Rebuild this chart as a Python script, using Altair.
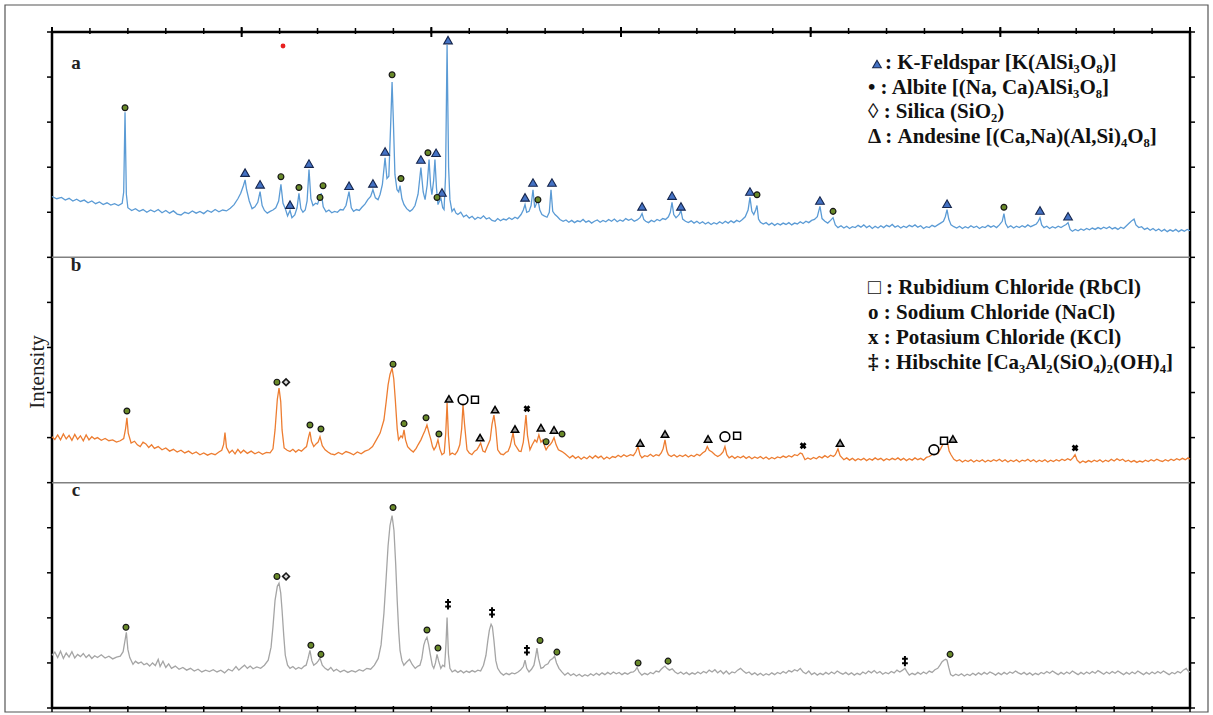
import altair as alt
import pandas as pd

# ---------------- data (2theta in degrees, intensity in a.u. within each panel) -------------
a_trace = [(10.0,1.35),(10.25,1.30),(10.5,1.33),(10.7,1.27),(10.9,1.31),(11.1,1.25),(11.3,1.29),(11.5,1.24),
(11.7,1.27),(11.9,1.21),(12.1,1.25),(12.3,1.19),(12.5,1.23),(12.7,1.17),(12.9,1.21),(13.1,1.16),(13.3,1.19),
(13.5,1.15),(13.7,1.20),(13.78,1.45),(13.85,3.22),(13.92,1.40),(14.0,1.10),(14.2,1.04),(14.4,1.08),(14.6,1.02),
(14.8,1.06),(15.0,1.00),(15.2,1.05),(15.4,1.01),(15.6,1.06),(15.8,0.99),(16.0,1.04),(16.2,0.98),(16.4,1.03),
(16.6,0.96),(16.8,0.94),(17.0,1.00),(17.2,0.97),(17.4,1.03),(17.6,0.98),(17.8,1.02),(18.0,0.97),(18.2,1.04),
(18.4,1.00),(18.6,1.06),(18.8,1.01),(19.0,1.05),(19.2,1.03),(19.4,1.09),(19.6,1.17),(19.8,1.30),(19.95,1.42),
(20.1,1.60),(20.18,1.72),(20.26,1.50),(20.4,1.25),(20.55,1.08),(20.7,1.12),(20.85,1.22),(20.97,1.46),(21.08,1.15),
(21.2,1.04),(21.35,0.98),(21.5,1.02),(21.65,1.05),(21.8,1.10),(21.95,1.25),(22.07,1.62),(22.18,1.20),(22.3,1.08),
(22.42,0.92),(22.55,1.04),(22.65,0.88),(22.8,0.94),(22.92,1.10),(23.02,1.42),(23.12,1.08),(23.23,1.00),(23.35,1.05),
(23.45,1.25),(23.55,1.95),(23.65,1.30),(23.76,1.15),(23.9,1.20),(24.0,1.18),(24.1,1.30),(24.2,1.42),(24.3,1.12),
(24.45,1.01),(24.6,1.05),(24.75,0.99),(24.9,1.02),(25.05,1.00),(25.2,1.06),(25.35,1.05),(25.5,1.15),(25.66,1.46),
(25.78,1.10),(25.9,1.02),(26.05,1.06),(26.2,1.04),(26.34,1.11),(26.5,1.18),(26.65,1.28),(26.8,1.35),(26.92,1.50),
(27.05,1.32),(27.19,1.28),(27.3,1.40),(27.42,1.62),(27.56,2.21),(27.66,1.75),(27.76,1.80),(27.86,3.00),(27.93,3.89),
(28.0,3.00),(28.08,1.84),(28.19,1.50),(28.28,1.45),(28.35,1.59),(28.45,1.30),(28.56,1.17),(28.7,1.08),(28.87,1.02),
(29.0,1.06),(29.14,1.15),(29.3,1.40),(29.45,1.99),(29.57,1.45),(29.67,1.28),(29.78,1.60),(29.88,2.17),(29.96,1.60),
(30.03,1.39),(30.12,1.70),(30.19,2.17),(30.27,1.55),(30.35,1.17),(30.43,1.25),(30.51,1.30),(30.6,1.10),(30.67,1.06),
(30.75,1.80),(30.83,4.71),(30.91,2.00),(30.98,1.28),(31.09,1.02),(31.2,1.08),(31.3,0.98),(31.4,0.95),(31.55,1.00),
(31.7,0.90),(31.85,0.94),(32.0,0.87),(32.15,0.91),(32.3,0.84),(32.45,0.89),(32.6,0.86),(32.75,0.92),(32.9,0.85),
(33.05,0.88),(33.2,0.82),(33.36,0.80),(33.5,0.86),(33.65,0.81),(33.8,0.85),(33.95,0.83),(34.1,0.88),(34.25,0.84),
(34.41,0.89),(34.55,0.86),(34.73,0.95),(34.85,1.05),(34.94,1.17),(35.03,1.00),(35.15,1.02),(35.26,1.15),(35.36,1.50),
(35.45,1.10),(35.52,1.17),(35.62,1.28),(35.72,1.05),(35.83,0.95),(35.95,0.92),(36.1,0.89),(36.22,1.00),(36.31,1.50),
(36.4,1.02),(36.52,0.95),(36.65,0.90),(36.78,0.84),(36.95,0.80),(37.1,0.83),(37.25,0.78),(37.4,0.82),(37.55,0.77),
(37.7,0.81),(37.85,0.79),(38.0,0.84),(38.15,0.78),(38.3,0.81),(38.45,0.76),(38.6,0.80),(38.75,0.83),(38.9,0.78),
(39.05,0.82),(39.2,0.79),(39.35,0.84),(39.5,0.80),(39.65,0.85),(39.8,0.79),(39.95,0.83),(40.1,0.80),(40.25,0.86),
(40.4,0.82),(40.55,0.85),(40.7,0.80),(40.85,0.83),(41.0,0.88),(41.11,0.97),(41.2,0.84),(41.3,0.80),(41.45,0.77),
(41.6,0.82),(41.75,0.79),(41.9,0.84),(42.05,0.81),(42.2,0.86),(42.35,0.84),(42.5,0.90),(42.6,1.00),(42.69,1.22),
(42.78,0.95),(42.9,0.88),(43.0,0.92),(43.08,0.96),(43.16,1.04),(43.25,0.85),(43.4,0.80),(43.55,0.77),(43.7,0.81),
(43.85,0.76),(44.0,0.80),(44.15,0.75),(44.3,0.79),(44.45,0.74),(44.6,0.78),(44.75,0.73),(44.9,0.77),(45.05,0.74),
(45.2,0.79),(45.35,0.75),(45.5,0.80),(45.65,0.76),(45.8,0.81),(45.95,0.77),(46.1,0.82),(46.25,0.79),(46.4,0.84),
(46.55,0.90),(46.7,1.05),(46.8,1.33),(46.9,1.02),(47.0,0.95),(47.1,1.05),(47.17,1.15),(47.25,0.85),(47.35,0.78),
(47.5,0.74),(47.65,0.77),(47.8,0.72),(47.95,0.76),(48.1,0.71),(48.25,0.75),(48.4,0.72),(48.55,0.76),(48.7,0.73),
(48.85,0.77),(49.0,0.72),(49.15,0.76),(49.3,0.74),(49.45,0.79),(49.6,0.75),(49.75,0.80),(49.9,0.77),(50.05,0.82),
(50.2,0.84),(50.35,0.90),(50.49,1.13),(50.6,0.86),(50.75,0.80),(50.9,0.76),(51.05,0.82),(51.18,0.88),(51.3,0.72),
(51.44,0.66),(51.6,0.70),(51.75,0.65),(51.9,0.69),(52.05,0.64),(52.2,0.68),(52.35,0.66),(52.5,0.71),(52.65,0.67),
(52.8,0.72),(52.95,0.66),(53.1,0.70),(53.25,0.64),(53.4,0.69),(53.55,0.65),(53.7,0.70),(53.85,0.66),(54.0,0.71),
(54.15,0.68),(54.3,0.73),(54.45,0.67),(54.6,0.70),(54.75,0.65),(54.9,0.69),(55.05,0.66),(55.2,0.71),(55.35,0.68),
(55.5,0.72),(55.65,0.67),(55.8,0.70),(55.95,0.64),(56.1,0.68),(56.25,0.66),(56.4,0.71),(56.55,0.68),(56.7,0.72),
(56.85,0.76),(57.0,0.80),(57.1,0.90),(57.19,1.06),(57.28,0.85),(57.4,0.72),(57.55,0.68),(57.7,0.65),(57.85,0.69),
(58.0,0.64),(58.15,0.68),(58.3,0.65),(58.45,0.70),(58.6,0.66),(58.75,0.69),(58.9,0.64),(59.05,0.68),(59.2,0.66),
(59.35,0.71),(59.5,0.67),(59.65,0.70),(59.8,0.66),(59.95,0.72),(60.1,0.80),(60.19,0.97),(60.28,0.75),(60.4,0.66),
(60.55,0.70),(60.7,0.65),(60.85,0.69),(61.0,0.66),(61.15,0.70),(61.3,0.67),(61.45,0.72),(61.6,0.68),(61.75,0.71),
(61.9,0.74),(62.0,0.80),(62.09,0.88),(62.18,0.72),(62.3,0.66),(62.45,0.69),(62.6,0.64),(62.75,0.68),(62.9,0.65),
(63.05,0.69),(63.2,0.66),(63.35,0.70),(63.47,0.73),(63.57,0.77),(63.68,0.62),(63.8,0.58),(63.95,0.62),(64.1,0.59),
(64.25,0.63),(64.4,0.60),(64.55,0.64),(64.7,0.61),(64.85,0.65),(65.0,0.62),(65.15,0.66),(65.3,0.63),(65.45,0.67),
(65.6,0.64),(65.75,0.68),(65.9,0.63),(66.05,0.66),(66.2,0.62),(66.35,0.67),(66.5,0.64),(66.65,0.70),(66.8,0.76),
(66.95,0.82),(67.05,0.85),(67.15,0.72),(67.3,0.66),(67.45,0.68),(67.6,0.62),(67.75,0.65),(67.9,0.60),(68.05,0.64),
(68.2,0.59),(68.35,0.63),(68.5,0.58),(68.65,0.62),(68.8,0.57),(68.95,0.61),(69.1,0.58),(69.25,0.62),(69.4,0.57),
(69.55,0.61),(69.7,0.58),(69.85,0.62),(70.0,0.59)]

b_trace = [(10.0,1.02),(10.15,0.96),(10.3,1.06),(10.45,0.95),(10.6,1.08),(10.75,0.97),(10.9,1.05),(11.05,0.94),
(11.2,1.07),(11.35,0.96),(11.5,1.04),(11.65,0.93),(11.8,1.06),(11.95,0.95),(12.1,1.02),(12.25,0.97),(12.4,1.00),
(12.6,0.94),(12.8,0.98),(13.0,0.93),(13.2,0.95),(13.4,0.90),(13.6,0.93),(13.78,0.98),(13.88,1.20),(13.95,1.44),
(14.02,1.10),(14.17,0.88),(14.35,0.92),(14.5,0.84),(14.65,0.80),(14.8,0.90),(14.95,0.86),(15.1,0.78),(15.25,0.84),
(15.4,0.76),(15.6,0.80),(15.8,0.73),(16.0,0.77),(16.2,0.70),(16.4,0.74),(16.6,0.68),(16.8,0.72),(17.0,0.66),
(17.2,0.70),(17.4,0.64),(17.6,0.68),(17.8,0.62),(18.0,0.66),(18.2,0.61),(18.4,0.65),(18.6,0.62),(18.8,0.68),
(18.95,0.72),(19.05,0.85),(19.12,1.11),(19.2,0.78),(19.35,0.66),(19.5,0.72),(19.65,0.64),(19.8,0.74),(19.95,0.66),
(20.1,0.72),(20.3,0.65),(20.5,0.70),(20.7,0.64),(20.9,0.68),(21.1,0.63),(21.3,0.67),(21.5,0.66),(21.65,0.75),
(21.76,1.17),(21.88,1.85),(21.97,2.10),(22.06,1.80),(22.13,1.17),(22.24,0.77),(22.4,0.72),(22.55,0.69),(22.7,0.74),
(22.85,0.68),(23.0,0.73),(23.15,0.70),(23.3,0.76),(23.42,0.80),(23.52,1.00),(23.6,1.13),(23.68,0.92),(23.8,0.80),
(23.92,0.86),(24.03,0.90),(24.13,1.02),(24.25,0.82),(24.4,0.73),(24.55,0.68),(24.7,0.64),(24.9,0.62),(25.1,0.67),
(25.3,0.63),(25.5,0.69),(25.7,0.66),(25.9,0.62),(26.1,0.68),(26.3,0.64),(26.5,0.70),(26.7,0.73),(26.9,0.80),
(27.1,0.95),(27.3,1.10),(27.5,1.39),(27.62,1.80),(27.72,2.17),(27.82,2.40),(27.93,2.54),(28.02,2.30),(28.1,1.84),
(28.2,1.20),(28.27,0.95),(28.4,1.04),(28.48,1.00),(28.56,1.17),(28.64,0.95),(28.75,0.80),(28.9,0.73),(29.05,0.68),
(29.2,0.76),(29.3,0.84),(29.45,0.95),(29.56,1.06),(29.66,1.15),(29.77,1.28),(29.88,1.10),(29.98,0.95),(30.06,0.80),
(30.14,0.73),(30.24,0.80),(30.35,0.95),(30.45,0.75),(30.56,0.62),(30.68,0.66),(30.76,1.10),(30.83,1.77),(30.9,1.05),
(30.98,0.62),(31.1,0.66),(31.25,0.62),(31.38,0.70),(31.5,0.84),(31.6,1.20),(31.67,1.73),(31.75,1.30),(31.88,0.73),
(32.0,0.66),(32.14,0.62),(32.28,0.70),(32.4,0.73),(32.5,0.80),(32.6,0.88),(32.72,0.70),(32.83,0.68),(32.95,0.80),
(33.1,0.95),(33.2,1.30),(33.3,1.50),(33.4,1.20),(33.5,0.73),(33.65,0.64),(33.8,0.62),(33.95,0.68),(34.04,0.69),
(34.15,0.80),(34.23,0.95),(34.31,1.11),(34.4,0.85),(34.52,0.77),(34.63,0.70),(34.73,0.69),(34.85,0.90),(34.92,1.20),
(34.99,1.50),(35.07,1.05),(35.2,0.73),(35.32,0.84),(35.46,0.95),(35.56,0.90),(35.67,1.06),(35.78,0.90),(35.88,0.95),
(35.98,0.80),(36.05,0.73),(36.15,0.80),(36.26,0.84),(36.36,0.90),(36.47,1.00),(36.58,0.84),(36.7,0.73),(36.89,0.69),
(37.05,0.64),(37.3,0.55),(37.45,0.60),(37.6,0.54),(37.75,0.58),(37.9,0.52),(38.05,0.57),(38.2,0.53),(38.35,0.59),
(38.5,0.54),(38.65,0.60),(38.8,0.55),(38.95,0.59),(39.1,0.52),(39.25,0.57),(39.4,0.53),(39.55,0.58),(39.7,0.56),
(39.85,0.61),(40.0,0.57),(40.15,0.62),(40.3,0.58),(40.5,0.62),(40.65,0.60),(40.78,0.68),(40.9,0.80),(41.0,0.62),
(41.1,0.55),(41.25,0.60),(41.4,0.58),(41.55,0.63),(41.7,0.58),(41.85,0.62),(42.0,0.60),(42.12,0.66),(42.22,0.75),
(42.32,0.95),(42.42,0.70),(42.5,0.62),(42.65,0.58),(42.8,0.62),(42.95,0.57),(43.1,0.61),(43.25,0.58),(43.4,0.62),
(43.55,0.57),(43.7,0.61),(43.85,0.58),(44.0,0.63),(44.15,0.60),(44.3,0.66),(44.45,0.70),(44.55,0.80),(44.65,0.72),
(44.8,0.68),(44.95,0.62),(45.1,0.58),(45.25,0.62),(45.38,0.68),(45.48,0.80),(45.58,0.62),(45.7,0.55),(45.85,0.59),
(46.0,0.54),(46.15,0.58),(46.3,0.55),(46.45,0.59),(46.6,0.54),(46.75,0.58),(46.9,0.53),(47.05,0.57),(47.2,0.54),
(47.35,0.58),(47.5,0.53),(47.65,0.57),(47.8,0.52),(47.95,0.56),(48.1,0.53),(48.25,0.57),(48.4,0.55),(48.55,0.59),
(48.7,0.56),(48.85,0.60),(49.0,0.57),(49.15,0.62),(49.3,0.60),(49.45,0.66),(49.55,0.64),(49.7,0.51),(49.85,0.55),
(50.0,0.52),(50.15,0.56),(50.3,0.53),(50.45,0.58),(50.6,0.55),(50.75,0.60),(50.9,0.56),(51.05,0.61),(51.2,0.58),
(51.3,0.62),(51.44,0.75),(51.55,0.60),(51.75,0.51),(51.9,0.55),(52.05,0.50),(52.2,0.54),(52.35,0.49),(52.5,0.53),
(52.65,0.50),(52.8,0.54),(52.95,0.49),(53.1,0.53),(53.25,0.50),(53.4,0.55),(53.55,0.51),(53.7,0.54),(53.85,0.49),
(54.0,0.53),(54.15,0.50),(54.3,0.54),(54.45,0.51),(54.6,0.55),(54.75,0.50),(54.9,0.54),(55.05,0.49),(55.2,0.53),
(55.35,0.50),(55.5,0.55),(55.65,0.51),(55.8,0.54),(55.95,0.50),(56.1,0.56),(56.25,0.58),(56.4,0.62),(56.55,0.66),
(56.7,0.64),(56.85,0.75),(56.97,0.85),(57.08,0.92),(57.19,0.95),(57.3,0.70),(57.4,0.62),(57.55,0.52),(57.7,0.48),
(57.85,0.51),(58.0,0.46),(58.15,0.50),(58.3,0.47),(58.45,0.51),(58.6,0.46),(58.75,0.50),(58.9,0.47),(59.05,0.51),
(59.2,0.46),(59.35,0.50),(59.5,0.47),(59.65,0.51),(59.8,0.48),(59.95,0.52),(60.1,0.47),(60.25,0.51),(60.4,0.46),
(60.55,0.50),(60.7,0.47),(60.85,0.51),(61.0,0.46),(61.15,0.50),(61.3,0.48),(61.45,0.52),(61.6,0.47),(61.75,0.51),
(61.9,0.46),(62.05,0.50),(62.2,0.47),(62.35,0.51),(62.5,0.46),(62.65,0.50),(62.8,0.47),(62.95,0.51),(63.1,0.48),
(63.25,0.52),(63.4,0.49),(63.55,0.53),(63.7,0.50),(63.82,0.55),(63.94,0.62),(64.05,0.50),(64.2,0.44),(64.35,0.48),
(64.5,0.45),(64.65,0.49),(64.8,0.46),(64.95,0.50),(65.1,0.47),(65.25,0.51),(65.4,0.46),(65.55,0.50),(65.7,0.47),
(65.85,0.52),(66.0,0.48),(66.15,0.53),(66.3,0.49),(66.45,0.52),(66.6,0.47),(66.75,0.50),(66.9,0.46),(67.05,0.49),
(67.2,0.45),(67.35,0.48),(67.5,0.46),(67.65,0.50),(67.8,0.47),(67.95,0.51),(68.1,0.48),(68.25,0.52),(68.4,0.49),
(68.55,0.47),(68.7,0.51),(68.85,0.48),(69.0,0.52),(69.15,0.49),(69.3,0.53),(69.45,0.50),(69.6,0.54),(69.75,0.51),
(69.9,0.55),(70.0,0.52)]

c_trace = [(10.0,1.17),(10.15,1.24),(10.3,1.12),(10.45,1.26),(10.6,1.10),(10.75,1.22),(10.9,1.13),(11.05,1.25),
(11.2,1.11),(11.35,1.19),(11.5,1.14),(11.65,1.21),(11.8,1.12),(11.95,1.18),(12.1,1.10),(12.25,1.16),(12.4,1.12),
(12.6,1.18),(12.8,1.11),(13.0,1.15),(13.2,1.09),(13.4,1.13),(13.6,1.15),(13.75,1.25),(13.85,1.50),(13.92,1.68),
(14.0,1.30),(14.1,1.12),(14.27,0.97),(14.4,1.04),(14.55,0.99),(14.7,1.02),(14.85,0.96),(15.0,0.99),(15.15,0.93),
(15.3,1.00),(15.45,0.94),(15.6,1.08),(15.7,0.92),(15.85,1.04),(16.0,0.90),(16.15,0.98),(16.3,0.88),(16.5,0.93),
(16.7,0.86),(16.9,0.90),(17.1,0.84),(17.3,0.88),(17.5,0.82),(17.7,0.86),(17.9,0.80),(18.1,0.84),(18.3,0.81),
(18.5,0.85),(18.7,0.80),(18.9,0.84),(19.1,0.78),(19.3,0.86),(19.5,0.82),(19.7,0.92),(19.85,0.84),(20.0,0.90),
(20.15,0.95),(20.3,0.88),(20.45,0.93),(20.6,0.87),(20.8,0.91),(21.0,0.88),(21.2,0.95),(21.4,1.06),(21.55,1.35),
(21.65,1.80),(21.76,2.39),(21.88,2.70),(21.97,2.77),(22.06,2.55),(22.13,2.17),(22.22,1.60),(22.3,1.17),(22.42,0.95),
(22.55,0.88),(22.7,0.92),(22.85,0.86),(23.0,0.90),(23.15,0.87),(23.3,0.93),(23.4,0.95),(23.5,1.10),(23.6,1.28),
(23.7,1.05),(23.8,0.95),(23.95,1.00),(24.05,1.05),(24.13,1.11),(24.25,0.95),(24.4,0.88),(24.55,0.84),(24.7,0.90),
(24.85,0.82),(25.0,0.86),(25.2,0.80),(25.4,0.84),(25.6,0.79),(25.8,0.83),(26.0,0.80),(26.2,0.85),(26.4,0.82),
(26.6,0.88),(26.8,0.86),(27.0,0.95),(27.2,1.10),(27.35,1.40),(27.5,2.10),(27.62,2.90),(27.72,3.60),(27.82,4.05),
(27.93,4.27),(28.03,3.94),(28.12,3.20),(28.2,2.39),(28.28,1.70),(28.35,1.28),(28.45,1.05),(28.55,0.95),(28.7,1.02),
(28.85,1.08),(29.0,0.96),(29.15,0.88),(29.3,0.93),(29.4,0.95),(29.5,1.10),(29.6,1.39),(29.68,1.50),(29.77,1.57),
(29.86,1.40),(29.94,1.20),(30.05,0.95),(30.13,0.88),(30.22,1.00),(30.3,1.19),(30.38,1.05),(30.5,0.88),(30.6,0.95),
(30.7,0.92),(30.77,1.40),(30.83,2.01),(30.9,1.20),(30.98,0.88),(31.1,0.80),(31.25,0.84),(31.4,0.79),(31.55,0.83),
(31.7,0.78),(31.85,0.82),(32.0,0.79),(32.15,0.83),(32.3,0.80),(32.45,0.84),(32.6,0.82),(32.75,0.95),(32.88,1.17),
(32.98,1.50),(33.06,1.73),(33.15,1.86),(33.22,1.80),(33.3,1.50),(33.4,1.05),(33.5,0.88),(33.65,0.78),(33.8,0.73),
(33.95,0.77),(34.1,0.74),(34.25,0.78),(34.4,0.76),(34.57,0.80),(34.7,0.84),(34.85,0.92),(34.94,1.06),(35.03,0.88),
(35.15,0.80),(35.28,0.86),(35.41,0.95),(35.5,1.15),(35.57,1.33),(35.65,1.10),(35.78,0.88),(35.9,0.90),(36.0,0.95),
(36.15,0.98),(36.26,1.06),(36.4,1.10),(36.5,1.15),(36.6,1.00),(36.73,0.88),(36.88,0.80),(37.04,0.73),(37.2,0.78),
(37.35,0.72),(37.5,0.76),(37.65,0.71),(37.8,0.75),(37.95,0.70),(38.1,0.74),(38.25,0.71),(38.4,0.76),(38.55,0.72),
(38.7,0.77),(38.85,0.73),(39.0,0.78),(39.15,0.74),(39.3,0.79),(39.45,0.75),(39.6,0.80),(39.75,0.76),(39.9,0.79),
(40.05,0.74),(40.2,0.78),(40.35,0.75),(40.5,0.79),(40.65,0.80),(40.76,0.84),(40.85,0.90),(40.95,0.80),(41.1,0.73),
(41.25,0.77),(41.4,0.74),(41.55,0.79),(41.7,0.76),(41.85,0.82),(42.0,0.80),(42.12,0.86),(42.22,0.90),(42.32,0.93),
(42.42,0.88),(42.55,0.84),(42.7,0.87),(42.85,0.80),(43.0,0.76),(43.15,0.80),(43.3,0.75),(43.45,0.79),(43.6,0.74),
(43.75,0.78),(43.9,0.75),(44.05,0.80),(44.2,0.76),(44.35,0.81),(44.5,0.78),(44.65,0.84),(44.8,0.80),(44.95,0.85),
(45.1,0.78),(45.25,0.83),(45.4,0.76),(45.55,0.82),(45.7,0.75),(45.85,0.80),(46.0,0.78),(46.15,0.84),(46.3,0.88),
(46.45,0.82),(46.6,0.77),(46.75,0.80),(46.9,0.74),(47.05,0.78),(47.2,0.73),(47.35,0.77),(47.5,0.72),(47.65,0.76),
(47.8,0.73),(47.95,0.78),(48.1,0.74),(48.25,0.79),(48.4,0.76),(48.55,0.81),(48.7,0.77),(48.85,0.83),(49.0,0.80),
(49.15,0.85),(49.3,0.82),(49.45,0.88),(49.6,0.80),(49.75,0.76),(49.9,0.82),(50.05,0.74),(50.2,0.78),(50.35,0.73),
(50.5,0.77),(50.65,0.74),(50.8,0.79),(50.95,0.75),(51.1,0.80),(51.25,0.76),(51.4,0.82),(51.55,0.78),(51.7,0.75),
(51.85,0.79),(52.0,0.74),(52.15,0.78),(52.3,0.73),(52.45,0.77),(52.6,0.74),(52.75,0.80),(52.9,0.76),(53.05,0.82),
(53.2,0.78),(53.35,0.83),(53.5,0.77),(53.65,0.81),(53.8,0.75),(53.95,0.79),(54.1,0.76),(54.25,0.81),(54.4,0.78),
(54.55,0.84),(54.7,0.80),(54.85,0.84),(54.97,0.88),(55.08,0.80),(55.2,0.73),(55.35,0.77),(55.5,0.74),(55.65,0.79),
(55.8,0.75),(55.95,0.80),(56.1,0.76),(56.25,0.82),(56.4,0.79),(56.55,0.85),(56.7,0.88),(56.82,0.95),(56.92,1.02),
(57.02,1.06),(57.12,1.08),(57.19,1.06),(57.28,0.90),(57.38,0.74),(57.5,0.71),(57.65,0.75),(57.8,0.72),(57.95,0.76),
(58.1,0.71),(58.25,0.75),(58.4,0.72),(58.55,0.77),(58.7,0.73),(58.85,0.78),(59.0,0.74),(59.15,0.79),(59.3,0.75),
(59.45,0.80),(59.6,0.77),(59.75,0.73),(59.9,0.78),(60.05,0.74),(60.2,0.79),(60.35,0.75),(60.5,0.80),(60.65,0.77),
(60.8,0.82),(60.95,0.78),(61.1,0.75),(61.25,0.79),(61.4,0.74),(61.55,0.78),(61.7,0.73),(61.85,0.77),(62.0,0.74),
(62.15,0.79),(62.3,0.76),(62.45,0.81),(62.6,0.77),(62.75,0.82),(62.9,0.78),(63.05,0.74),(63.2,0.79),(63.35,0.75),
(63.5,0.80),(63.65,0.76),(63.8,0.82),(63.95,0.78),(64.1,0.74),(64.25,0.79),(64.4,0.75),(64.55,0.80),(64.7,0.76),
(64.85,0.81),(65.0,0.77),(65.15,0.83),(65.3,0.79),(65.45,0.75),(65.6,0.80),(65.75,0.76),(65.9,0.81),(66.05,0.77),
(66.2,0.82),(66.35,0.78),(66.5,0.74),(66.65,0.79),(66.8,0.75),(66.95,0.80),(67.1,0.76),(67.25,0.82),(67.4,0.78),
(67.55,0.74),(67.7,0.79),(67.85,0.75),(68.0,0.80),(68.15,0.76),(68.3,0.81),(68.45,0.77),(68.6,0.82),(68.75,0.78),
(68.9,0.74),(69.05,0.79),(69.2,0.76),(69.35,0.81),(69.5,0.78),(69.65,0.84),(69.8,0.88),(69.9,0.82),(70.0,0.80)]

# phase markers (2theta, intensity within panel)
a_kfeldspar = [(20.18,1.88),(20.97,1.62),(22.55,1.17),(23.55,2.08),(25.66,1.59),(26.92,1.64),(27.56,2.35),
(29.45,2.17),(30.25,2.32),(30.56,1.44),(30.88,4.82),(34.94,1.33),(35.36,1.66),(36.36,1.66),(41.11,1.13),
(42.69,1.37),(43.16,1.13),(46.80,1.46),(50.49,1.26),(57.19,1.19),(62.09,1.04),(63.57,0.91)]
a_albite = [(13.85,3.32),(22.07,1.79),(23.02,1.55),(24.13,1.33),(24.29,1.59),(27.93,4.05),(28.40,1.75),
(29.82,2.32),(30.30,1.33),(35.62,1.28),(47.17,1.39),(51.18,1.02),(60.19,1.11)]
b_albite = [(13.95,1.59),(21.86,2.23),(23.60,1.28),(24.18,1.19),(27.98,2.63),(28.56,1.31),(29.72,1.44),
(30.40,1.08),(36.05,0.91),(36.89,1.08)]
b_silica = [(22.34,2.23)]
b_andesine = [(30.93,1.86),(32.57,1.00),(33.36,1.62),(34.41,1.19),(35.78,1.22),(36.47,1.17),(41.01,0.88),
(42.32,1.08),(44.59,0.97),(51.55,0.88),(57.50,0.97)]
b_nacl = [(31.67,1.84),(45.48,1.02),(56.50,0.73)]
b_rbcl = [(32.30,1.84),(46.12,1.04),(57.03,0.93)]
b_kcl = [(35.04,1.64),(49.60,0.82),(63.94,0.77)]
c_albite = [(13.90,1.79),(21.86,2.92),(23.65,1.39),(24.18,1.19),(27.98,4.45),(29.77,1.73),(30.35,1.33),
(35.73,1.50),(36.62,1.24),(40.90,1.00),(42.48,1.04),(57.35,1.19)]
c_silica = [(22.34,2.92)]
c_hibschite = [(30.88,2.30),(33.20,2.12),(35.04,1.28),(54.97,1.04)]
stray_dot = [(22.18,4.69)]   # red dot in panel a

panel_offsets = {"a": 10, "b": 5, "c": 0}
panel_names = ["a", "b", "c"]
x_ticks = list(range(10, 71, 2))
x_major = list(range(10, 71, 10))
y_ticks = list(range(0, 16))
dividers = [5, 10]

legend_a = [": K-Feldspar [K(AlSi₃O₈)]", "• : Albite [(Na, Ca)AlSi₃O₈]", "◊ : Silica (SiO₂)",
            "Δ : Andesine [(Ca,Na)(Al,Si)₄O₈]"]
legend_b = ["□ : Rubidium Chloride (RbCl)", "o : Sodium Chloride (NaCl)", "x : Potasium Chloride (KCl)",
            "‡ : Hibschite [Ca₃Al₂(SiO₄)₂(OH)₄]"]
y_title = "Intensity"

# ---------------- chart -------------
W, H = 1138, 676
SERIF = "Liberation Serif"
xs = alt.Scale(domain=[10, 70], nice=False, zero=False)
ys = alt.Scale(domain=[0, 15], nice=False, zero=False)


def frame(points, panel):
    off = panel_offsets[panel]
    return pd.DataFrame({"tt": [p[0] for p in points], "I": [p[1] + off for p in points]})


def enc():
    return dict(x=alt.X("tt:Q", scale=xs, axis=None), y=alt.Y("I:Q", scale=ys, axis=None))


one = pd.DataFrame({"k": [0]})
layers = []

# outer border
layers.append(alt.Chart(one).mark_rect(fill="transparent", stroke="#555555", strokeWidth=1.2).encode(
    x=alt.value(-47), x2=alt.value(1156), y=alt.value(-27), y2=alt.value(680)))

# panel dividers
layers.append(alt.Chart(pd.DataFrame({"d": dividers})).mark_rule(color="#808080", strokeWidth=1.5).encode(
    y=alt.Y("d:Q", scale=ys, axis=None), x=alt.value(0), x2=alt.value(W)))

# ticks
tx = pd.DataFrame({"t": x_ticks})
txm = pd.DataFrame({"t": x_major})
ty = pd.DataFrame({"t": y_ticks})
xt = alt.X("t:Q", scale=xs, axis=None)
yt = alt.Y("t:Q", scale=ys, axis=None)
layers.append(alt.Chart(tx).mark_rule(color="black", strokeWidth=1.5).encode(x=xt, y=alt.value(-4), y2=alt.value(2)))
layers.append(alt.Chart(txm).mark_rule(color="black", strokeWidth=2).encode(x=xt, y=alt.value(-5), y2=alt.value(5)))
layers.append(alt.Chart(tx).mark_rule(color="black", strokeWidth=1.5).encode(x=xt, y=alt.value(H - 2), y2=alt.value(H + 4)))
layers.append(alt.Chart(ty).mark_rule(color="black", strokeWidth=1.5).encode(y=yt, x=alt.value(-5), x2=alt.value(0)))
layers.append(alt.Chart(ty).mark_rule(color="black", strokeWidth=1.5).encode(y=yt, x=alt.value(W), x2=alt.value(W + 5)))

# traces
for pts, panel, col in [(a_trace, "a", "#5B9BD5"), (b_trace, "b", "#ED7D31"), (c_trace, "c", "#A5A5A5")]:
    layers.append(alt.Chart(frame(pts, panel)).mark_line(color=col, strokeWidth=1.3).encode(**enc()))

kf_style = dict(shape="triangle-up", filled=True, fill="#4472C4", stroke="#16264d", strokeWidth=1.1, size=75, opacity=1)
ab_style = dict(shape="circle", filled=True, fill="#6a8a2a", stroke="#161616", strokeWidth=1.2, size=34, opacity=1)
si_style = dict(shape="diamond", filled=True, fill="#d8d8d8", stroke="#1a1a1a", strokeWidth=1.6, size=45, opacity=1)
an_style = dict(shape="triangle-up", filled=True, fill="#9a9a9a", stroke="black", strokeWidth=1.5, size=55, opacity=1)
na_style = dict(shape="circle", filled=True, fill="white", stroke="black", strokeWidth=1.6, size=95, opacity=1)
rb_style = dict(shape="square", filled=True, fill="white", stroke="black", strokeWidth=1.5, size=48, opacity=1)
k_style = dict(shape="cross", angle=45, filled=True, color="black", size=48, opacity=1)
hib_style = dict(shape="M0,-1L0,1M-0.55,-0.45L0.55,-0.45M-0.55,0.4L0.55,0.4", filled=False, stroke="black",
                 strokeWidth=2, size=110, opacity=1)

for pts, panel, style in [(a_kfeldspar, "a", kf_style), (a_albite, "a", ab_style),
                          (b_albite, "b", ab_style), (b_silica, "b", si_style), (b_andesine, "b", an_style),
                          (b_nacl, "b", na_style), (b_rbcl, "b", rb_style), (b_kcl, "b", k_style),
                          (c_albite, "c", ab_style), (c_silica, "c", si_style), (c_hibschite, "c", hib_style)]:
    layers.append(alt.Chart(frame(pts, panel)).mark_point(**style).encode(**enc()))

layers.append(alt.Chart(frame(stray_dot, "a")).mark_circle(color="#e8201f", size=24, opacity=1).encode(**enc()))

# panel letters
for i, name in enumerate(panel_names):
    ypos = [31, 233, 458][i]
    layers.append(alt.Chart(one).mark_text(text=name, font=SERIF, fontSize=19, fontWeight="bold", color="#222",
                                           baseline="middle", align="center").encode(x=alt.value(24), y=alt.value(ypos)))

# y title
layers.append(alt.Chart(one).mark_text(text=y_title, font=SERIF, fontSize=21, angle=270, color="#222",
                                       baseline="middle", align="center").encode(x=alt.value(-14), y=alt.value(340)))

# legends
layers.append(alt.Chart(one).mark_point(**kf_style).encode(x=alt.value(825), y=alt.value(32)))
for i, lab in enumerate(legend_a):
    layers.append(alt.Chart(one).mark_text(text=lab, font=SERIF, fontSize=21, fontWeight="bold", color="#111",
                                           baseline="middle", align="left").encode(
        x=alt.value(833 if i == 0 else 816), y=alt.value(31 + 24.5 * i)))
for i, lab in enumerate(legend_b):
    layers.append(alt.Chart(one).mark_text(text=lab, font=SERIF, fontSize=21, fontWeight="bold", color="#111",
                                           baseline="middle", align="left").encode(
        x=alt.value(816), y=alt.value(256 + 25 * i)))

chart = alt.layer(*layers).properties(
    width=W, height=H,
    padding={"left": 52, "top": 32, "right": 23, "bottom": 7},
    autosize=alt.AutoSizeParams(type="none"),
    background="white",
).configure_view(stroke="black", strokeWidth=2.5)

chart.save("out.html", embed_options={"renderer": "svg", "actions": False})
